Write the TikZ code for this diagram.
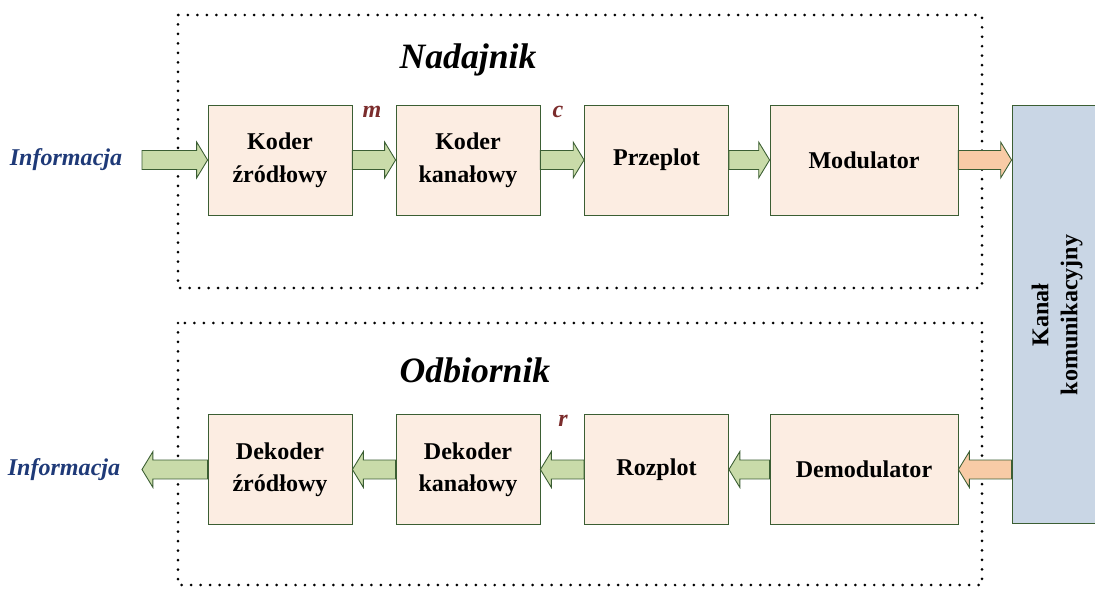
\documentclass[tikz,border=0pt]{standalone}
\usepackage{fontspec}
\setmainfont{Liberation Serif}
\usepackage{xcolor}
\usetikzlibrary{calc}

\definecolor{boxfill}{HTML}{FCEDE2}
\definecolor{edge}{HTML}{3B5E33}
\definecolor{greenarr}{HTML}{C9DBA9}
\definecolor{orangearr}{HTML}{F8CBA6}
\definecolor{chanfill}{HTML}{C9D6E5}
\definecolor{infoblue}{HTML}{1F3A78}
\definecolor{sigred}{HTML}{7B2C2C}

% block arrow from #2 to #3 (horizontal), filled with #1
\newcommand{\blockarrow}[3]{%
  \draw[barrow, fill=#1] let \p1=(#2), \p2=(#3), \n1={ifthenelse(\x2>\x1,1,-1)} in
    (\x1,\y1+5.4pt) -- (\x2-\n1*6.2pt,\y1+5.4pt) -- (\x2-\n1*6.2pt,\y1+10.2pt)
    -- (\x2,\y1) -- (\x2-\n1*6.2pt,\y1-10.2pt) -- (\x2-\n1*6.2pt,\y1-5.4pt)
    -- (\x1,\y1-5.4pt) -- cycle;}

\begin{document}
\begin{tikzpicture}[
  x=0.02cm, y=0.02cm,
  block/.style={draw=edge, line width=0.5pt, fill=boxfill, minimum width=2.88cm,
    minimum height=2.2cm, align=center, inner sep=0pt,
    font=\bfseries\fontsize{13.7}{18.5}\selectfont},
  wblock/.style={block, minimum width=3.76cm},
  chan/.style={draw=edge, line width=0.5pt, fill=chanfill, minimum width=1.7cm,
    minimum height=8.36cm, inner sep=0pt},
  barrow/.style={draw=edge, line width=0.5pt, line join=miter},
  frame/.style={line width=1.7pt, line cap=round, dash pattern=on 0pt off 5.4pt},
  title/.style={font=\bfseries\itshape\fontsize{20.3}{24}\selectfont},
  info/.style={text=infoblue, font=\bfseries\itshape\fontsize{13.7}{16}\selectfont},
  sig/.style={text=sigred, font=\bfseries\itshape\fontsize{13.7}{16}\selectfont}
]
  \useasboundingbox (0,0) rectangle (1095,589);

  % Dotted frames
  \draw[frame] (178,574) rectangle (982,301);
  \draw[frame] (178,266) rectangle (982,4);

  \node[title] (nad) at (468,529) {Nadajnik};
  \node[title] (odb) at (475,219) {Odbiornik};

  % Transmitter
  \node[block] (kz) at (280,429) {Koder\\źródłowy};
  \node[block] (kk) at (468,429) {Koder\\kanałowy};
  \node[block] (prz) at (656.5,429) {Przeplot};
  \node[wblock] (mod) at (864,429) {Modulator};

  % Receiver
  \node[block] (dz) at (280,119.5) {Dekoder\\źródłowy};
  \node[block] (dk) at (468,119.5) {Dekoder\\kanałowy};
  \node[block] (roz) at (656.5,119.5) {Rozplot};
  \node[wblock] (dem) at (864,119.5) {Demodulator};

  % Channel
  \node[chan] (kan) at (1054.5,275) {};
  \node[rotate=90, align=center, font=\bfseries\fontsize{13.7}{16.5}\selectfont]
    (kantxt) at (1057,274) {Kanał\\komunikacyjny};

  % Information in / out
  \node[info] (infin) at (66,429) {Informacja};
  \node[info] (infout) at (64,119.5) {Informacja};
  \coordinate (ain) at (142,429);
  \coordinate (aout) at (142,119.5);

  % Arrows
  \blockarrow{greenarr}{ain}{kz.west}
  \blockarrow{greenarr}{kz.east}{kk.west}
  \blockarrow{greenarr}{kk.east}{prz.west}
  \blockarrow{greenarr}{prz.east}{mod.west}
  \blockarrow{orangearr}{mod.east}{mod.east -| kan.west}
  \blockarrow{orangearr}{dem.east -| kan.west}{dem.east}
  \blockarrow{greenarr}{dem.west}{roz.east}
  \blockarrow{greenarr}{roz.west}{dk.east}
  \blockarrow{greenarr}{dk.west}{dz.east}
  \blockarrow{greenarr}{dz.west}{aout}

  % Signal labels
  \node[sig] (m) at (372,477) {m};
  \node[sig] (c) at (558,477) {c};
  \node[sig] (r) at (563,168) {r};
\end{tikzpicture}
\end{document}
